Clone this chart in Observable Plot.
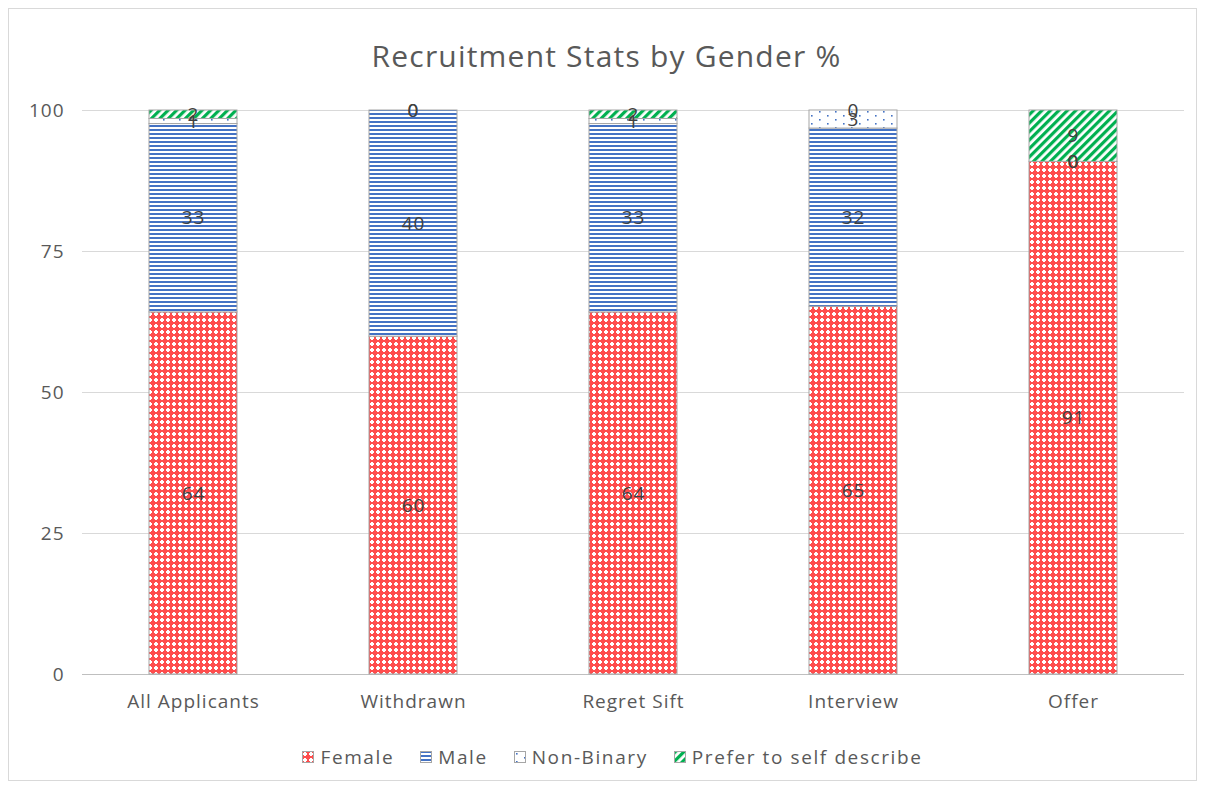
<!DOCTYPE html>
<html>
<head>
<meta charset="utf-8">
<script src="https://cdn.jsdelivr.net/npm/d3@7"></script>
<script src="https://cdn.jsdelivr.net/npm/@observablehq/plot@0.6"></script>
<style>
  html, body { margin: 0; padding: 0; background: #fff; }
  #frame { position: absolute; left: 8px; top: 8px; width: 1187px; height: 771px; border: 1px solid #d9d9d9; background: #fff; font-family: "Open Sans", sans-serif; color: #595959; }
  #title { position: absolute; left: 4px; top: 26px; width: 100%; text-align: center; font-size: 30px; letter-spacing: 1.2px; color: #595959; }
  #chart { position: absolute; left: 0; top: 80px; }
  #legend { position: absolute; left: 10px; top: 735px; width: 100%; display: flex; justify-content: center; gap: 26px; font-size: 19px; letter-spacing: 1.6px; color: #595959; }
  #legend .item { display: flex; align-items: center; gap: 6px; }
  #legend svg { display: block; }
</style>
</head>
<body>
<svg width="0" height="0" style="position:absolute">
  <defs>
    <pattern id="pFemale" width="6" height="6" patternUnits="userSpaceOnUse">
      <rect width="6" height="6" fill="#ff4d4d"/>
      <rect x="2" y="1" width="2" height="4" fill="#fff"/>
      <rect x="1" y="2" width="4" height="2" fill="#fff"/>
    </pattern>
    <pattern id="pMale" width="4" height="4" patternUnits="userSpaceOnUse">
      <rect width="4" height="4" fill="#fff"/>
      <rect width="4" height="2" fill="#4472c4"/>
    </pattern>
    <pattern id="pNB" width="16" height="8" patternUnits="userSpaceOnUse">
      <rect width="16" height="8" fill="#fff"/>
      <rect x="2" y="2" width="1.6" height="1.6" fill="#4472c4"/>
      <rect x="10" y="6" width="1.6" height="1.6" fill="#4472c4"/>
    </pattern>
    <pattern id="pPSD" width="6" height="6" patternUnits="userSpaceOnUse" patternTransform="rotate(45)">
      <rect width="6" height="6" fill="#fff"/>
      <rect width="3.2" height="6" fill="#00b050"/>
    </pattern>
  </defs>
</svg>
<div id="frame">
  <div id="title">Recruitment Stats by Gender %</div>
  <div id="chart"></div>
  <div id="legend"></div>
</div>
<script>
const stages = ["All Applicants", "Withdrawn", "Regret Sift", "Interview", "Offer"];
const genders = ["Female", "Male", "Non-Binary", "Prefer to self describe"];
const female = [64.2, 59.9, 64.2, 65.2, 90.9];
const male = [33.4, 40.1, 33.4, 31.6, 0];
const nonBinary = [0.9, 0, 0.9, 3.2, 0];
const selfDescribe = [1.5, 0, 1.5, 0, 9.1];
const yTicks = [0, 25, 50, 75, 100];

const patterns = {
  "Female": "url(#pFemale)",
  "Male": "url(#pMale)",
  "Non-Binary": "url(#pNB)",
  "Prefer to self describe": "url(#pPSD)"
};
const series = [female, male, nonBinary, selfDescribe];
const data = [];
stages.forEach((s, i) => {
  genders.forEach((g, j) => data.push({stage: s, gender: g, value: series[j][i]}));
});

const chart = Plot.plot({
  width: 1187,
  height: 640,
  marginLeft: 73,
  marginRight: 12,
  marginTop: 21,
  marginBottom: 55,
  style: {fontFamily: "Open Sans, sans-serif", fontSize: "19px", letterSpacing: "1px", color: "#595959", background: "transparent"},
  x: {domain: stages, paddingInner: 0.6, paddingOuter: 0.3, label: null, tickSize: 0, tickPadding: 20},
  y: {domain: [0, 100], ticks: yTicks, label: null, tickSize: 0, tickPadding: 18},
  color: {type: "identity"},
  marks: [
    Plot.gridY(yTicks, {stroke: "#d9d9d9", strokeOpacity: 1}),
    Plot.ruleY([0], {stroke: "#bfbfbf"}),
    Plot.barY(data, Plot.stackY({
      filter: d => d.value > 0,
      x: "stage", y: "value", z: "gender",
      fill: d => patterns[d.gender],
      stroke: "#a6a6a6", strokeWidth: 1
    })),
    Plot.text(data, Plot.stackY({
      x: "stage", y: "value", z: "gender",
      text: d => String(Math.round(d.value)),
      fill: "#404040", fontSize: 19
    }))
  ]
});
document.getElementById("chart").appendChild(chart);

const legend = document.getElementById("legend");
genders.forEach(g => {
  const item = document.createElement("div");
  item.className = "item";
  item.innerHTML = `<svg width="12" height="12"><rect x="0.5" y="0.5" width="11" height="11" fill="${patterns[g]}" stroke="#a6a6a6"/></svg><span>${g}</span>`;
  legend.appendChild(item);
});
</script>
</body>
</html>
